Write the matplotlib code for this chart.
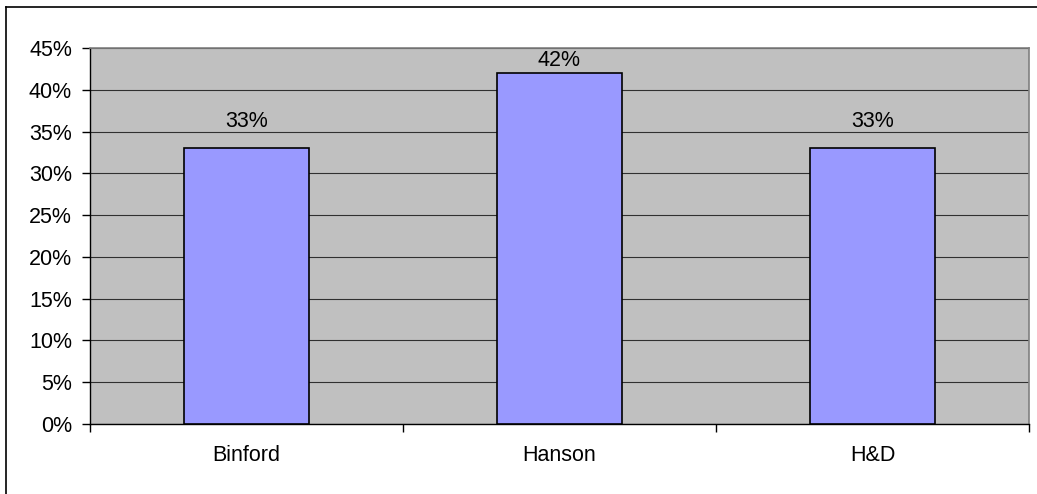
import matplotlib.pyplot as plt
from matplotlib.lines import Line2D
import numpy as np

categories = ["Binford", "Hanson", "H&D"]
shares = [33, 42, 33]  # percent
y_ticks = [0, 5, 10, 15, 20, 25, 30, 35, 40, 45]

# label gap above each bar top, in points (Excel tucked the tall one in)
label_gap = [12, 1.5, 12]

plt.rcParams["font.family"] = ["Liberation Sans", "DejaVu Sans"]
plt.rcParams["font.size"] = 15.5

fig = plt.figure(figsize=(10.37, 4.94), dpi=100)
ax = fig.add_axes([90 / 1037, 70 / 494, 939 / 1037, 376 / 494])
ax.set_facecolor("#C0C0C0")

x = np.arange(len(categories))
bars = ax.bar(x, shares, width=0.4, color="#9999FF", edgecolor="black",
              linewidth=1.2, zorder=3)

for rect, val, gap in zip(bars, shares, label_gap):
    ax.annotate(f"{val}%", (rect.get_x() + rect.get_width() / 2, val),
                xytext=(0, gap), textcoords="offset points",
                ha="center", va="bottom")

ax.set_xlim(-0.5, len(categories) - 0.5)
ax.set_ylim(0, 45)
ax.set_yticks(y_ticks)
ax.set_yticklabels([f"{t}%" for t in y_ticks])
ax.yaxis.grid(True, color="#303030", linewidth=0.8, zorder=1)
ax.set_axisbelow(True)

ax.set_xticks(x)
ax.set_xticklabels(categories)
ax.tick_params(axis="x", length=0, pad=15)
ax.set_xticks(np.arange(len(categories) + 1) - 0.5, minor=True)
ax.tick_params(axis="x", which="minor", length=6, width=1, color="black")
ax.tick_params(axis="y", length=6, width=1, color="black", pad=7)

for side in ("top", "right"):
    ax.spines[side].set_color("#808080")
    ax.spines[side].set_linewidth(1.2)
for side in ("left", "bottom"):
    ax.spines[side].set_color("black")
    ax.spines[side].set_linewidth(1.0)

# outer chart border (only left and top fall inside the picture)
fig.add_artist(Line2D([6 / 1037, 6 / 1037], [0, 487 / 494], color="black",
                      linewidth=1.2, transform=fig.transFigure))
fig.add_artist(Line2D([6 / 1037, 1], [487 / 494, 487 / 494], color="black",
                      linewidth=1.2, transform=fig.transFigure))

fig.savefig("out.png", dpi=100)
